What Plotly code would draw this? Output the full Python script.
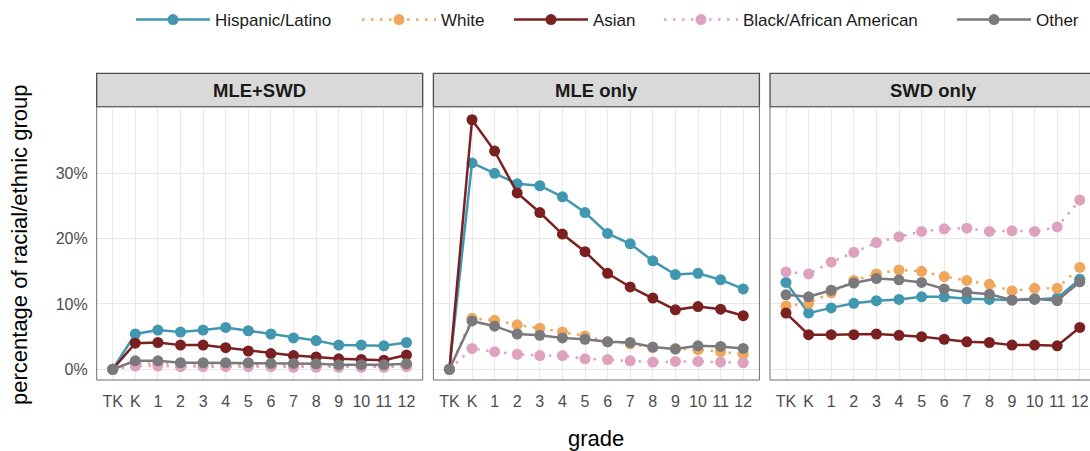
import plotly.graph_objects as go
import numpy as np

grades = ["TK", "K", "1", "2", "3", "4", "5", "6", "7", "8", "9", "10", "11", "12"]
groups = ["Hispanic/Latino", "White", "Asian", "Black/African American", "Other"]
panels = ["MLE+SWD", "MLE only", "SWD only"]

# values in percent
mle_swd_hispanic = [0, 5.4, 6.0, 5.7, 6.0, 6.4, 5.9, 5.4, 4.8, 4.4, 3.7, 3.7, 3.6, 4.1]
mle_swd_white = [0, 0.9, 0.9, 0.8, 0.8, 0.7, 0.7, 0.7, 0.7, 0.6, 0.5, 0.5, 0.5, 0.6]
mle_swd_asian = [0, 4.0, 4.1, 3.7, 3.7, 3.3, 2.8, 2.4, 2.1, 1.9, 1.6, 1.5, 1.4, 2.2]
mle_swd_black = [0, 0.5, 0.5, 0.4, 0.4, 0.4, 0.4, 0.4, 0.3, 0.3, 0.3, 0.3, 0.3, 0.4]
mle_swd_other = [0, 1.3, 1.3, 1.0, 1.0, 1.0, 1.0, 0.9, 0.9, 0.85, 0.7, 0.7, 0.7, 0.85]

mle_hispanic = [0, 31.6, 30.0, 28.4, 28.1, 26.4, 24.0, 20.8, 19.2, 16.6, 14.5, 14.7, 13.7, 12.3]
mle_white = [0, 7.8, 7.5, 6.8, 6.3, 5.7, 5.1, 4.2, 3.9, 3.3, 3.2, 3.0, 2.7, 2.3]
mle_asian = [0, 38.2, 33.4, 27.0, 24.0, 20.7, 18.0, 14.7, 12.6, 10.9, 9.1, 9.6, 9.2, 8.2]
mle_black = [0, 3.2, 2.7, 2.3, 2.1, 2.1, 1.6, 1.5, 1.3, 1.1, 1.2, 1.2, 1.1, 1.0]
mle_other = [0, 7.4, 6.6, 5.4, 5.2, 4.8, 4.6, 4.2, 4.1, 3.4, 3.1, 3.6, 3.5, 3.2]

swd_hispanic = [13.3, 8.6, 9.4, 10.1, 10.5, 10.7, 11.1, 11.1, 10.8, 10.7, 10.6, 10.7, 10.9, 13.8]
swd_white = [9.7, 10.1, 11.7, 13.6, 14.6, 15.2, 15.0, 14.2, 13.6, 13.0, 12.0, 12.4, 12.4, 15.6]
swd_asian = [8.6, 5.3, 5.3, 5.3, 5.4, 5.2, 5.0, 4.6, 4.2, 4.1, 3.7, 3.7, 3.6, 6.4]
swd_black = [14.9, 14.6, 16.4, 17.9, 19.4, 20.3, 21.1, 21.5, 21.6, 21.1, 21.2, 21.1, 21.8, 25.9]
swd_other = [11.4, 11.1, 12.1, 13.2, 13.9, 13.7, 13.3, 12.3, 11.8, 11.5, 10.6, 10.8, 10.5, 13.4]

y_ticks = [0, 0.1, 0.2, 0.3]

data = {
    "MLE+SWD": [mle_swd_hispanic, mle_swd_white, mle_swd_asian, mle_swd_black, mle_swd_other],
    "MLE only": [mle_hispanic, mle_white, mle_asian, mle_black, mle_other],
    "SWD only": [swd_hispanic, swd_white, swd_asian, swd_black, swd_other],
}

colors = ["#4197B0", "#EFA75B", "#7B2020", "#DFA2BE", "#7A7A7E"]
dashes = ["solid", "2.5px,6.5px", "solid", "2.5px,6.5px", "solid"]
legend_widths = [137, 63, 61, 204, None]

W, H = 1090, 451
def px(x):
    return x / W
def py(y):
    return (H - y) / H

spacing = 22.6
pw = 326.0
lefts = [96.7, 433.4, 770.0]
off = 0.708
x_ranges = []
x_domains = []
for i, L in enumerate(lefts):
    R = L + pw
    Rc = min(R, W)
    lo = -off
    hi = -off + (Rc - L) / spacing
    x_ranges.append([lo, hi])
    x_domains.append([px(L), px(Rc)])

y_top, y_bot = 106.7, 380.0
y_dom = [py(y_bot), py(y_top)]

fig = go.Figure()
for pi, pname in enumerate(panels):
    xa = "x" if pi == 0 else f"x{pi+1}"
    ya = "y" if pi == 0 else f"y{pi+1}"
    for gi, g in enumerate(groups):
        vals = np.array(data[pname][gi]) / 100.0
        tr = go.Scatter(
            x=grades, y=vals, mode="lines+markers", name=g,
            legendgroup=g, showlegend=(pi == 0),
            line=dict(color=colors[gi], width=2.5, dash=dashes[gi]),
            marker=dict(color=colors[gi], size=11, line=dict(width=0)),
            xaxis=xa, yaxis=ya, hoverinfo="skip",
        )
        if legend_widths[gi] is not None:
            tr.legendwidth = legend_widths[gi]
        fig.add_trace(tr)

tickfont = dict(family="Liberation Sans, Arial, sans-serif", size=16, color="#4d4d4d")
for pi in range(3):
    key = "xaxis" if pi == 0 else f"xaxis{pi+1}"
    fig.layout[key] = dict(
        domain=x_domains[pi], range=x_ranges[pi], type="category",
        categoryorder="array", categoryarray=grades,
        anchor="y" if pi == 0 else f"y{pi+1}",
        showgrid=True, gridcolor="#e8e8e8", gridwidth=1,
        zeroline=False, showline=False, ticks="",
        tickfont=tickfont, ticklabelstandoff=10, fixedrange=True,
    )
    ykey = "yaxis" if pi == 0 else f"yaxis{pi+1}"
    fig.layout[ykey] = dict(
        domain=y_dom, range=[-0.0164, 0.402],
        anchor="x" if pi == 0 else f"x{pi+1}",
        tickvals=y_ticks, tickformat=".0%",
        showgrid=True, gridcolor="#e8e8e8", gridwidth=1,
        zeroline=False, showline=False, ticks="",
        showticklabels=(pi == 0), tickfont=tickfont, ticklabelstandoff=8,
        fixedrange=True,
    )

shapes = []
annotations = []
for pi, L in enumerate(lefts):
    R = L + pw
    shapes.append(dict(type="rect", xref="paper", yref="paper",
                       x0=px(L), x1=px(R), y0=py(y_bot), y1=py(y_top),
                       line=dict(color="#6e6e6e", width=1), fillcolor="rgba(0,0,0,0)", layer="above"))
    shapes.append(dict(type="rect", xref="paper", yref="paper",
                       x0=px(L), x1=px(R), y0=py(106.7), y1=py(73.3),
                       line=dict(color="#4d4d4d", width=1.3), fillcolor="#d9d9d9", layer="below"))
    annotations.append(dict(text=f"<b>{panels[pi]}</b>", xref="paper", yref="paper",
                            x=px(L + pw / 2), y=py(90), xanchor="center", yanchor="middle",
                            showarrow=False,
                            font=dict(family="Liberation Sans, Arial, sans-serif", size=18.5, color="#1a1a1a")))

annotations.append(dict(text="grade", xref="paper", yref="paper", x=px(596), y=py(438),
                        xanchor="center", yanchor="middle", showarrow=False,
                        font=dict(family="Liberation Sans, Arial, sans-serif", size=22, color="#000000")))
annotations.append(dict(text="percentage of racial/ethnic group", xref="paper", yref="paper",
                        x=px(19), y=py(245), xanchor="center", yanchor="middle", showarrow=False,
                        textangle=-90,
                        font=dict(family="Liberation Sans, Arial, sans-serif", size=22, color="#000000")))

fig.update_layout(
    width=W, height=H,
    margin=dict(l=0, r=0, t=0, b=0, autoexpand=False),
    paper_bgcolor="white", plot_bgcolor="white",
    shapes=shapes, annotations=annotations,
    legend=dict(orientation="h", x=px(131), xanchor="left", y=py(20), yanchor="middle",
                font=dict(family="Liberation Sans, Arial, sans-serif", size=17, color="#1a1a1a"),
                bgcolor="rgba(0,0,0,0)", traceorder="normal", itemwidth=74),
    font=dict(family="Liberation Sans, Arial, sans-serif"),
)

fig.write_html("out.html", config={"displayModeBar": False},
               post_script="document.body.style.margin='0';document.body.style.overflow='hidden';")
